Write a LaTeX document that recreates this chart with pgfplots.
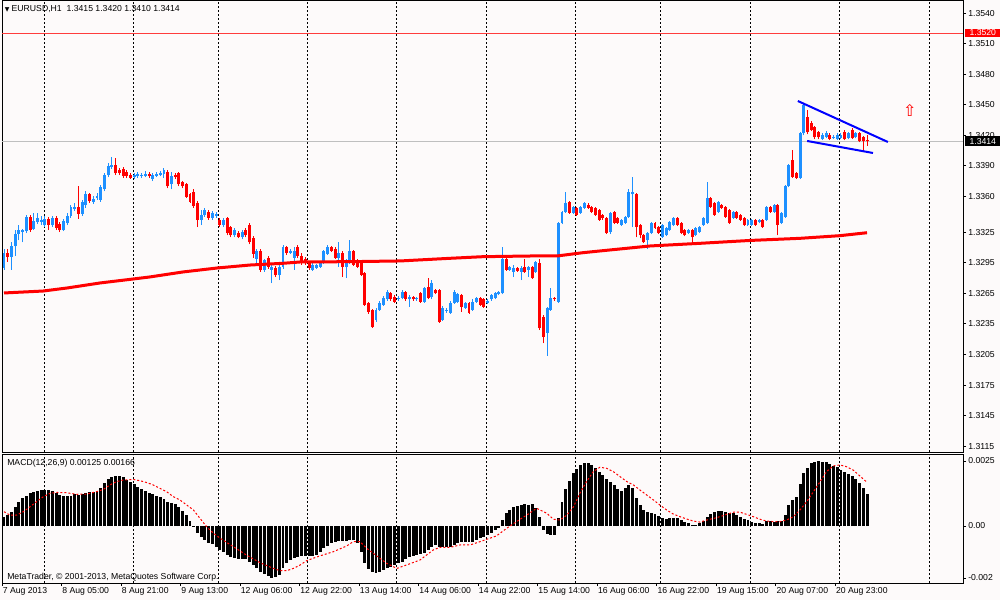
\documentclass[border=0pt]{standalone}
\usepackage{pgfplots}
\usepackage{pgfplotstable}
\pgfplotsset{compat=1.18}
\usepackage{fontspec}
\setmainfont{Liberation Sans}
\newfontfamily\djv{DejaVu Sans}
\definecolor{bg}{RGB}{253,250,250}
\definecolor{bull}{RGB}{30,144,255}
\definecolor{bear}{RGB}{255,0,0}
\definecolor{lvl}{RGB}{255,60,60}
\definecolor{tl}{RGB}{0,0,255}
\newcommand{\fs}{\fontsize{6.5}{7}\selectfont}

\pgfplotstableread{
i O H L C
0 1.3290 1.3309 1.3288 1.3305
1 1.3305 1.3309 1.3296 1.3301
2 1.3301 1.3315 1.3288 1.3311
3 1.3311 1.3327 1.3302 1.3323
4 1.3323 1.3332 1.3317 1.3327
5 1.3325 1.3328 1.3315 1.3327
6 1.3326 1.3342 1.3324 1.3340
7 1.3340 1.3342 1.3325 1.3327
8 1.3328 1.3344 1.3327 1.3336
9 1.3335 1.3344 1.3333 1.3339
10 1.3335 1.3341 1.3332 1.3337
11 1.3332 1.3341 1.3330 1.3338
12 1.3338 1.3340 1.3327 1.3332
13 1.3332 1.3341 1.3330 1.3339
14 1.3339 1.3341 1.3327 1.3329
15 1.3333 1.3335 1.3325 1.3327
16 1.3327 1.3338 1.3326 1.3336
17 1.3334 1.3344 1.3332 1.3341
18 1.3341 1.3352 1.3339 1.3350
19 1.3348 1.3354 1.3346 1.3350
20 1.3350 1.3370 1.3338 1.3343
21 1.3343 1.3357 1.3341 1.3355
22 1.3352 1.3365 1.3349 1.3362
23 1.3362 1.3363 1.3354 1.3356
24 1.3355 1.3361 1.3353 1.3358
25 1.3359 1.3363 1.3357 1.3361
26 1.3357 1.3371 1.3355 1.3369
27 1.3367 1.3383 1.3365 1.3381
28 1.3381 1.3393 1.3379 1.3390
29 1.3389 1.3399 1.3387 1.3391
30 1.3391 1.3398 1.3381 1.3383
31 1.3386 1.3388 1.3381 1.3383
32 1.3387 1.3389 1.3378 1.3380
33 1.3384 1.3386 1.3378 1.3380
34 1.3381 1.3383 1.3377 1.3378
35 1.3379 1.3383 1.3377 1.3381
36 1.3380 1.3384 1.3378 1.3382
37 1.3380 1.3383 1.3378 1.3381
38 1.3380 1.3385 1.3379 1.3382
39 1.3382 1.3384 1.3378 1.3380
40 1.3377 1.3383 1.3375 1.3381
41 1.3380 1.3384 1.3379 1.3382
42 1.3381 1.3385 1.3380 1.3383
43 1.3382 1.3388 1.3378 1.3386
44 1.3384 1.3386 1.3368 1.3370
45 1.3372 1.3384 1.3367 1.3380
46 1.3381 1.3383 1.3377 1.3379
47 1.3383 1.3384 1.3370 1.3372
48 1.3374 1.3375 1.3368 1.3370
49 1.3372 1.3373 1.3359 1.3360
50 1.3362 1.3363 1.3354 1.3355
51 1.3364 1.3367 1.3349 1.3351
52 1.3354 1.3356 1.3330 1.3337
53 1.3337 1.3347 1.3332 1.3342
54 1.3342 1.3349 1.3340 1.3347
55 1.3345 1.3347 1.3337 1.3339
56 1.3339 1.3346 1.3337 1.3344
57 1.3341 1.3345 1.3339 1.3343
58 1.3337 1.3339 1.3330 1.3332
59 1.3332 1.3339 1.3330 1.3337
60 1.3339 1.3340 1.3322 1.3324
61 1.3330 1.3331 1.3320 1.3322
62 1.3322 1.3329 1.3320 1.3327
63 1.3324 1.3326 1.3319 1.3320
64 1.3320 1.3327 1.3318 1.3325
65 1.3327 1.3329 1.3320 1.3322
66 1.3332 1.3334 1.3313 1.3315
67 1.3319 1.3321 1.3300 1.3304
68 1.3299 1.3309 1.3293 1.3307
69 1.3307 1.3309 1.3286 1.3288
70 1.3288 1.3299 1.3286 1.3298
71 1.3300 1.3302 1.3289 1.3291
72 1.3288 1.3293 1.3275 1.3291
73 1.3290 1.3292 1.3281 1.3283
74 1.3283 1.3293 1.3278 1.3291
75 1.3291 1.3312 1.3289 1.3310
76 1.3310 1.3311 1.3303 1.3305
77 1.3305 1.3309 1.3304 1.3307
78 1.3300 1.3310 1.3288 1.3307
79 1.3310 1.3312 1.3300 1.3302
80 1.3302 1.3305 1.3293 1.3296
81 1.3299 1.3301 1.3293 1.3295
82 1.3295 1.3297 1.3288 1.3290
83 1.3288 1.3295 1.3287 1.3293
84 1.3290 1.3294 1.3289 1.3293
85 1.3291 1.3297 1.3290 1.3296
86 1.3295 1.3308 1.3294 1.3307
87 1.3304 1.3312 1.3303 1.3310
88 1.3310 1.3311 1.3306 1.3307
89 1.3309 1.3310 1.3299 1.3300
90 1.3300 1.3315 1.3291 1.3305
91 1.3305 1.3307 1.3281 1.3291
92 1.3291 1.3299 1.3280 1.3298
93 1.3296 1.3317 1.3294 1.3307
94 1.3307 1.3308 1.3292 1.3293
95 1.3298 1.3299 1.3290 1.3291
96 1.3295 1.3296 1.3282 1.3283
97 1.3285 1.3286 1.3253 1.3254
98 1.3256 1.3257 1.3245 1.3247
99 1.3249 1.3250 1.3231 1.3232
100 1.3239 1.3251 1.3237 1.3249
101 1.3249 1.3258 1.3248 1.3256
102 1.3254 1.3262 1.3253 1.3260
103 1.3259 1.3268 1.3258 1.3266
104 1.3265 1.3266 1.3258 1.3259
105 1.3261 1.3263 1.3256 1.3257
106 1.3259 1.3262 1.3258 1.3260
107 1.3260 1.3268 1.3259 1.3266
108 1.3266 1.3267 1.3258 1.3259
109 1.3259 1.3263 1.3252 1.3261
110 1.3261 1.3262 1.3258 1.3259
111 1.3259 1.3261 1.3258 1.3260
112 1.3265 1.3266 1.3256 1.3257
113 1.3257 1.3271 1.3256 1.3270
114 1.3271 1.3280 1.3259 1.3260
115 1.3261 1.3278 1.3259 1.3275
116 1.3268 1.3269 1.3264 1.3265
117 1.3268 1.3269 1.3236 1.3237
118 1.3239 1.3253 1.3238 1.3251
119 1.3248 1.3251 1.3246 1.3249
120 1.3246 1.3258 1.3245 1.3256
121 1.3256 1.3268 1.3255 1.3266
122 1.3257 1.3265 1.3256 1.3264
123 1.3263 1.3264 1.3247 1.3252
124 1.3251 1.3257 1.3250 1.3256
125 1.3256 1.3257 1.3245 1.3246
126 1.3249 1.3259 1.3248 1.3257
127 1.3257 1.3261 1.3256 1.3260
128 1.3260 1.3261 1.3253 1.3254
129 1.3259 1.3260 1.3251 1.3252
130 1.3256 1.3259 1.3255 1.3258
131 1.3259 1.3264 1.3258 1.3263
132 1.3260 1.3266 1.3259 1.3265
133 1.3264 1.3267 1.3263 1.3266
134 1.3265 1.3310 1.3264 1.3299
135 1.3299 1.3300 1.3287 1.3288
136 1.3288 1.3292 1.3287 1.3291
137 1.3286 1.3293 1.3281 1.3290
138 1.3290 1.3291 1.3286 1.3287
139 1.3286 1.3292 1.3278 1.3290
140 1.3291 1.3299 1.3285 1.3286
141 1.3288 1.3292 1.3281 1.3291
142 1.3291 1.3292 1.3279 1.3280
143 1.3286 1.3297 1.3285 1.3296
144 1.3295 1.3299 1.3229 1.3231
145 1.3242 1.3244 1.3216 1.3222
146 1.3226 1.3252 1.3204 1.3251
147 1.3249 1.3270 1.3248 1.3260
148 1.3260 1.3261 1.3258 1.3259
149 1.3257 1.3335 1.3256 1.3334
150 1.3334 1.3346 1.3333 1.3345
151 1.3345 1.3364 1.3344 1.3354
152 1.3355 1.3356 1.3343 1.3344
153 1.3344 1.3351 1.3343 1.3350
154 1.3349 1.3350 1.3341 1.3342
155 1.3344 1.3351 1.3343 1.3350
156 1.3349 1.3355 1.3348 1.3354
157 1.3352 1.3354 1.3348 1.3349
158 1.3350 1.3351 1.3344 1.3345
159 1.3349 1.3350 1.3341 1.3342
160 1.3347 1.3348 1.3336 1.3337
161 1.3342 1.3343 1.3337 1.3339
162 1.3339 1.3340 1.3323 1.3324
163 1.3325 1.3345 1.3323 1.3344
164 1.3345 1.3346 1.3333 1.3334
165 1.3339 1.3340 1.3333 1.3334
166 1.3332 1.3338 1.3331 1.3337
167 1.3334 1.3341 1.3333 1.3340
168 1.3340 1.3367 1.3339 1.3364
169 1.3362 1.3379 1.3330 1.3364
170 1.3362 1.3363 1.3320 1.3330
171 1.3332 1.3333 1.3319 1.3322
172 1.3322 1.3323 1.3314 1.3315
173 1.3317 1.3325 1.3309 1.3324
174 1.3324 1.3335 1.3323 1.3334
175 1.3334 1.3335 1.3328 1.3329
176 1.3330 1.3331 1.3323 1.3324
177 1.3320 1.3333 1.3319 1.3332
178 1.3322 1.3330 1.3321 1.3329
179 1.3327 1.3336 1.3326 1.3335
180 1.3332 1.3340 1.3331 1.3339
181 1.3339 1.3340 1.3331 1.3332
182 1.3334 1.3335 1.3323 1.3324
183 1.3327 1.3328 1.3321 1.3322
184 1.3324 1.3328 1.3323 1.3327
185 1.3327 1.3328 1.3315 1.3320
186 1.3322 1.3330 1.3321 1.3329
187 1.3325 1.3331 1.3324 1.3330
188 1.3332 1.3340 1.3331 1.3339
189 1.3334 1.3374 1.3333 1.3359
190 1.3359 1.3360 1.3349 1.3350
191 1.3354 1.3355 1.3341 1.3342
192 1.3345 1.3356 1.3344 1.3355
193 1.3352 1.3353 1.3348 1.3349
194 1.3350 1.3351 1.3339 1.3340
195 1.3347 1.3348 1.3333 1.3334
196 1.3339 1.3346 1.3338 1.3345
197 1.3345 1.3346 1.3338 1.3339
198 1.3342 1.3343 1.3336 1.3337
199 1.3339 1.3340 1.3331 1.3332
200 1.3332 1.3338 1.3331 1.3337
201 1.3332 1.3338 1.3331 1.3337
202 1.3337 1.3338 1.3331 1.3332
203 1.3335 1.3338 1.3334 1.3337
204 1.3337 1.3338 1.3329 1.3330
205 1.3337 1.3351 1.3336 1.3350
206 1.3350 1.3351 1.3344 1.3345
207 1.3345 1.3353 1.3344 1.3352
208 1.3352 1.3353 1.3322 1.3332
209 1.3334 1.3345 1.3333 1.3344
210 1.3340 1.3371 1.3339 1.3370
211 1.3370 1.3392 1.3369 1.3391
212 1.3396 1.3406 1.3378 1.3379
213 1.3383 1.3384 1.3377 1.3378
214 1.3378 1.3423 1.3377 1.3422
215 1.3422 1.3452 1.3420 1.3450
216 1.3438 1.3445 1.3421 1.3423
217 1.3432 1.3434 1.3424 1.3425
218 1.3428 1.3429 1.3416 1.3418
219 1.3423 1.3424 1.3416 1.3418
220 1.3416 1.3422 1.3415 1.3420
221 1.3418 1.3424 1.3417 1.3422
222 1.3420 1.3422 1.3415 1.3416
223 1.3417 1.3420 1.3416 1.3418
224 1.3416 1.3422 1.3415 1.3420
225 1.3417 1.3422 1.3416 1.3420
226 1.3423 1.3425 1.3415 1.3416
227 1.3417 1.3423 1.3416 1.3422
228 1.3425 1.3427 1.3416 1.3417
229 1.3418 1.3423 1.3417 1.3422
230 1.3422 1.3423 1.3413 1.3414
231 1.3418 1.3419 1.3404 1.3414
232 1.3415 1.3420 1.3410 1.3414
}\candles

\pgfplotstableread{
i ma
0 1.32654
10.5 1.32673
17 1.32703
25.8 1.32752
34.7 1.32791
39.2 1.32811
48.1 1.32860
57.3 1.32899
66.1 1.32928
75 1.32945
79.6 1.32958
93 1.32961
106.5 1.32968
119.9 1.32994
128.8 1.33010
142.2 1.33017
148.7 1.33017
155.6 1.33049
160.2 1.33066
173.7 1.33115
187.1 1.33141
200.5 1.33169
214 1.33190
224.7 1.33216
232 1.33245
}\ma

\pgfplotstableread{
i v
0 0.00036
1 0.00042
2 0.00055
3 0.00074
4 0.00094
5 0.00106
6 0.00115
7 0.00126
8 0.00129
9 0.00135
10 0.00137
11 0.00137
12 0.00137
13 0.00133
14 0.00126
15 0.00119
16 0.00115
17 0.00115
18 0.00117
19 0.00122
20 0.00118
21 0.00123
22 0.00128
23 0.00132
24 0.00132
25 0.00136
26 0.00145
27 0.00164
28 0.00179
29 0.00190
30 0.00192
31 0.00192
32 0.00187
33 0.00177
34 0.00168
35 0.00160
36 0.00151
37 0.00142
38 0.00135
39 0.00128
40 0.00122
41 0.00117
42 0.00110
43 0.00103
44 0.00094
45 0.00090
46 0.00083
47 0.00072
48 0.00059
49 0.00042
50 0.00021
51 -0.00003
52 -0.00028
53 -0.00044
54 -0.00054
55 -0.00064
56 -0.00071
57 -0.00079
58 -0.00092
59 -0.00099
60 -0.00112
61 -0.00118
62 -0.00124
63 -0.00127
64 -0.00128
65 -0.00128
66 -0.00137
67 -0.00150
68 -0.00163
69 -0.00176
70 -0.00185
71 -0.00192
72 -0.00199
73 -0.00197
74 -0.00188
75 -0.00163
76 -0.00144
77 -0.00131
78 -0.00124
79 -0.00118
80 -0.00115
81 -0.00115
82 -0.00115
83 -0.00115
84 -0.00112
85 -0.00099
86 -0.00086
87 -0.00076
88 -0.00067
89 -0.00060
90 -0.00056
91 -0.00056
92 -0.00056
93 -0.00054
94 -0.00054
95 -0.00064
96 -0.00099
97 -0.00144
98 -0.00167
99 -0.00176
100 -0.00179
101 -0.00176
102 -0.00169
103 -0.00163
104 -0.00156
105 -0.00150
106 -0.00144
107 -0.00137
108 -0.00128
109 -0.00121
110 -0.00115
111 -0.00112
112 -0.00108
113 -0.00103
114 -0.00092
115 -0.00079
116 -0.00072
117 -0.00079
118 -0.00082
119 -0.00082
120 -0.00079
121 -0.00073
122 -0.00064
123 -0.00062
124 -0.00062
125 -0.00062
126 -0.00060
127 -0.00054
128 -0.00047
129 -0.00044
130 -0.00035
131 -0.00028
132 -0.00015
133 -0.00006
134 0.00023
135 0.00049
136 0.00062
137 0.00072
138 0.00077
139 0.00081
140 0.00083
141 0.00081
142 0.00085
143 0.00068
144 0.00036
145 -0.00015
146 -0.00031
147 -0.00035
148 -0.00035
149 0.00029
150 0.00094
151 0.00141
152 0.00174
153 0.00203
154 0.00218
155 0.00235
156 0.00241
157 0.00241
158 0.00235
159 0.00222
160 0.00209
161 0.00196
162 0.00181
163 0.00171
164 0.00158
165 0.00141
166 0.00135
167 0.00145
168 0.00158
169 0.00145
170 0.00106
171 0.00081
172 0.00062
173 0.00055
174 0.00049
175 0.00045
176 0.00038
177 0.00029
178 0.00026
179 0.00029
180 0.00032
181 0.00029
182 0.00023
183 0.00017
184 0.00013
185 0.00004
186 0.00004
187 0.00010
188 0.00021
189 0.00036
190 0.00046
191 0.00053
192 0.00058
193 0.00059
194 0.00055
195 0.00051
196 0.00049
197 0.00042
198 0.00036
199 0.00027
200 0.00023
201 0.00017
202 0.00013
203 0.00010
204 0.00008
205 0.00019
206 0.00021
207 0.00017
208 0.00019
209 0.00019
210 0.00042
211 0.00081
212 0.00100
213 0.00113
214 0.00160
215 0.00203
216 0.00222
217 0.00241
218 0.00247
219 0.00250
220 0.00247
221 0.00245
222 0.00238
223 0.00231
224 0.00226
225 0.00215
226 0.00209
227 0.00200
228 0.00192
229 0.00180
230 0.00165
231 0.00148
232 0.00125
}\macd

\pgfplotstableread{
i s
0 0.00055
1.6 0.00042
3.4 0.00042
5.2 0.00055
7.0 0.00074
8.8 0.00094
10.6 0.00113
12.4 0.00126
14.2 0.00129
16.8 0.00128
19.5 0.00122
22.2 0.00123
24.9 0.00132
26.7 0.00141
28.5 0.00158
30.3 0.00171
32.1 0.00177
34.8 0.00179
36.6 0.00174
38.4 0.00167
40.1 0.00158
41.9 0.00145
43.7 0.00132
45.5 0.00113
47.3 0.00100
49.1 0.00081
50.9 0.00062
52.7 0.00029
54.5 -0.00003
56.3 -0.00028
58.1 -0.00047
61.6 -0.00079
65.2 -0.00112
68.8 -0.00141
72.4 -0.00163
74.2 -0.00172
76.0 -0.00172
77.8 -0.00163
79.6 -0.00150
81.4 -0.00133
84.9 -0.00115
88.5 -0.00099
92.1 -0.00077
93.9 -0.00060
95.7 -0.00060
97.5 -0.00086
100.2 -0.00115
102.9 -0.00144
105.6 -0.00163
108.2 -0.00150
111.8 -0.00131
115.4 -0.00092
117.2 -0.00082
119.9 -0.00082
122.6 -0.00073
125.3 -0.00073
128.0 -0.00060
129.8 -0.00051
132.4 -0.00038
135.1 -0.00009
137.8 0.00017
140.5 0.00042
143.2 0.00068
145.9 0.00049
147.7 0.00026
149.5 0.00023
151.3 0.00042
153.1 0.00074
154.8 0.00126
156.6 0.00171
158.4 0.00209
160.2 0.00226
162.0 0.00222
163.8 0.00209
165.6 0.00190
167.4 0.00171
169.2 0.00158
171.0 0.00138
172.8 0.00119
174.6 0.00100
176.3 0.00081
178.1 0.00062
179.9 0.00046
181.7 0.00036
183.5 0.00027
185.3 0.00019
187.1 0.00015
188.9 0.00023
190.7 0.00029
192.5 0.00036
194.3 0.00045
196.1 0.00053
197.9 0.00053
199.6 0.00045
201.4 0.00036
203.2 0.00026
205.0 0.00019
206.8 0.00017
208.6 0.00017
210.4 0.00023
212.2 0.00036
214.0 0.00062
215.8 0.00094
217.6 0.00132
219.4 0.00171
221.1 0.00209
222.9 0.00231
224.7 0.00235
226.5 0.00228
228.3 0.00215
230.1 0.00192
232 0.00168
}\signal

\begin{document}
\begin{tikzpicture}
\fill[bg] (0pt,0pt) rectangle (750pt,450pt);
\useasboundingbox (0pt,0pt) rectangle (750pt,450pt);

% ---------- main price panel ----------
\begin{axis}[
  at={(1.5pt,449.25pt)}, anchor=north west,
  scale only axis, width=720.75pt, height=338.25pt,
  xmin=-0.54, xmax=257.8, ymin=1.31094, ymax=1.35518,
  axis line style={black, line width=0.75pt},
  xtick={10.83,34.76,57.61,81.53,105.56,129.76,153.68,176.53,200.73,224.54,248.66},
  xticklabels={},
  xmajorgrids,
  major x tick style={draw=none},
  grid style={black, line width=0.75pt, dash pattern=on 1.5pt off 1.5pt},
  ytick={1.3115,1.3145,1.3175,1.3205,1.3235,1.3265,1.3295,1.3325,1.3360,1.3390,1.3420,1.3450,1.3480,1.3510,1.3540},
  yticklabels={1.3115,1.3145,1.3175,1.3205,1.3235,1.3265,1.3295,1.3325,1.3360,1.3390,1.3420,1.3450,1.3480,1.3510,1.3540},
  ytick pos=right, yticklabel pos=right,
  ytick align=outside, major tick length=2.25pt,
  major y tick style={black, line width=0.75pt},
  yticklabel style={font=\fs, anchor=west, inner sep=0pt, xshift=1.5pt},
  scaled y ticks=false,
  candle/.style={draw=none, mark=none, forget plot,
    error bars/y dir=plus, error bars/y explicit, error bars/error mark=none,
    error bars/error bar style={draw=#1}},
]
\addplot[lvl, line width=1pt, forget plot] coordinates {(-0.54,1.3520) (257.8,1.3520)};
\addplot[black!25, line width=0.75pt, forget plot] coordinates {(-0.54,1.3414) (257.8,1.3414)};
% wicks
\addplot[candle=bull, restrict expr to domain={\thisrow{C}-\thisrow{O}}{0:1},
  error bars/error bar style={line width=0.75pt}]
  table[x=i, y=L, y error plus expr={\thisrow{H}-\thisrow{L}}] {\candles};
\addplot[candle=bear, restrict expr to domain={\thisrow{O}-\thisrow{C}}{0.00001:1},
  error bars/error bar style={line width=0.75pt}]
  table[x=i, y=L, y error plus expr={\thisrow{H}-\thisrow{L}}] {\candles};
% bodies
\addplot[candle=bull, restrict expr to domain={\thisrow{C}-\thisrow{O}}{0:1},
  error bars/error bar style={line width=2.2pt}]
  table[x=i, y=O, y error plus expr={max(\thisrow{C}-\thisrow{O},0.00007)}] {\candles};
\addplot[candle=bear, restrict expr to domain={\thisrow{O}-\thisrow{C}}{0.00001:1},
  error bars/error bar style={line width=2.2pt}]
  table[x=i, y=C, y error plus expr={\thisrow{O}-\thisrow{C}}] {\candles};
% moving average
\addplot[bear, line width=2.25pt, forget plot] table[x=i, y=ma] {\ma};
% trend lines
\addplot[tl, line width=1.5pt, forget plot] coordinates {(213.4,1.34537) (237.6,1.34135)};
\addplot[tl, line width=1.5pt, forget plot] coordinates {(215.9,1.34145) (233.6,1.34027)};
\node[text=red] at (axis cs:243.5,1.3444) {\djv\fontsize{12}{12}\selectfont ⇧};
\end{axis}

% ---------- MACD panel ----------
\begin{axis}[
  at={(1.5pt,108.75pt)}, anchor=north west,
  scale only axis, width=720.75pt, height=96pt,
  xmin=-0.54, xmax=257.8, ymin=-0.002192, ymax=0.002731,
  axis line style={black, line width=0.75pt},
  xtick={-0.5,15.5,31.5,47.5,63.5,79.5,95.5,111.5,127.5,143.5,159.5,175.5,191.5,207.5,223.5},
  xticklabels={7 Aug 2013,8 Aug 05:00,8 Aug 21:00,9 Aug 13:00,12 Aug 06:00,12 Aug 22:00,13 Aug 14:00,14 Aug 06:00,14 Aug 22:00,15 Aug 14:00,16 Aug 06:00,16 Aug 22:00,19 Aug 15:00,20 Aug 07:00,20 Aug 23:00},
  xtick pos=left,
  xtick align=outside,
  xticklabel style={font=\fs, anchor=north west, inner sep=0pt, xshift=0.3pt, yshift=-1.2pt},
  extra x ticks={10.83,34.76,57.61,81.53,105.56,129.76,153.68,176.53,200.73,224.54,248.66},
  extra x tick labels={},
  extra x tick style={grid=major, major tick length=0pt},
  grid style={black, line width=0.75pt, dash pattern=on 1.5pt off 1.5pt},
  ytick={-0.002,0,0.0025},
  yticklabels={-0.002,0.00,0.0025},
  ytick pos=right, yticklabel pos=right,
  ytick align=outside,
  major tick length=2.25pt,
  tick style={black, line width=0.75pt},
  yticklabel style={font=\fs, anchor=west, inner sep=0pt, xshift=1.5pt},
  scaled y ticks=false, scaled x ticks=false,
]
\addplot[ycomb, black, line width=2.2pt, mark=none, forget plot] table[x=i, y=v] {\macd};
\addplot[bear, line width=0.75pt, dash pattern=on 1.5pt off 1.5pt, forget plot] table[x=i, y=s] {\signal};
\end{axis}

% ---------- texts ----------
\node[anchor=west, inner sep=0pt] at (3.5pt,443.25pt) {\fs{\djv\fontsize{4.5}{5}\selectfont ▼}\hspace{1.6pt}EURUSD,H1\ \ 1.3415 1.3420 1.3410 1.3414};
\node[anchor=west, inner sep=0pt] at (5.25pt,102.75pt) {\fs MACD(12,26,9) 0.00125 0.00166};
\node[anchor=west, inner sep=0pt] at (5.25pt,17.25pt) {\fs MetaTrader, © 2001-2013, MetaQuotes Software Corp.};
\node[anchor=west, fill=bear, text=white, inner sep=0pt, minimum height=6.4pt, minimum width=26.25pt] at (723.75pt,425.25pt) {\fs 1.3520};
\node[anchor=west, fill=black, text=white, inner sep=0pt, minimum height=7.5pt, minimum width=26.25pt] at (723.75pt,343.9pt) {\fs 1.3414};
\end{tikzpicture}
\end{document}
